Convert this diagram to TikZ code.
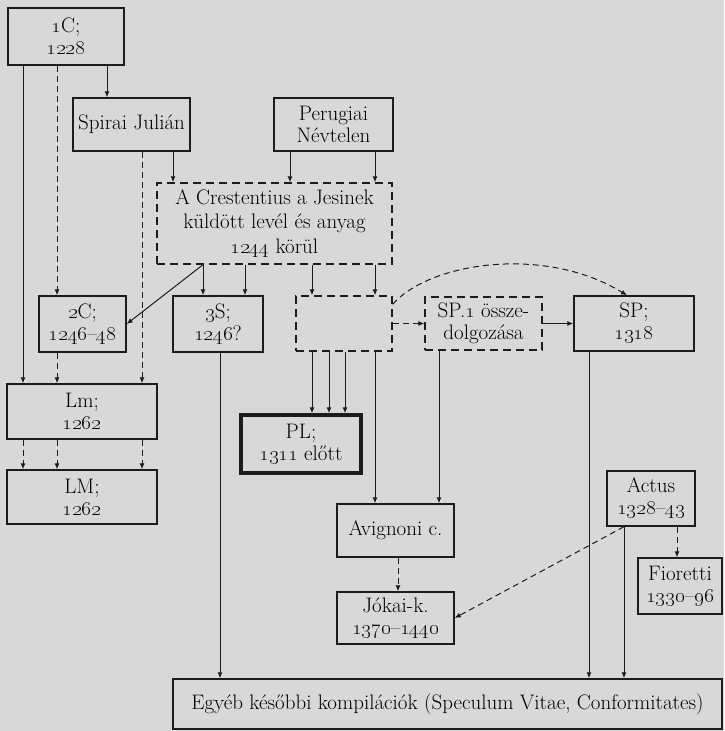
\documentclass[tikz,border=0pt]{standalone}
\usetikzlibrary{arrows.meta}
\definecolor{paper}{RGB}{216,216,216}
\definecolor{ink}{RGB}{28,28,28}
\newcommand{\os}[1]{\oldstylenums{#1}}
\begin{document}
\begin{tikzpicture}[x=1pt,y=-1pt,
  box/.style={draw=ink, line width=1.4pt, inner sep=0pt, align=center,
    font=\fontsize{21}{22}\selectfont, text=black},
  dbox/.style={box, dash pattern=on 8pt off 5pt},
  thickbox/.style={box, line width=3.5pt},
  conn/.style={draw=ink, line width=1pt, -{Latex[length=6pt,width=5pt]}},
  dconn/.style={conn, dash pattern=on 6pt off 4pt},
]
\fill[paper] (0,0) rectangle (724,731);
\useasboundingbox (0,0) rectangle (724,731);

% nodes
\node[box, minimum width=116pt, minimum height=57pt] (c1) at (66,36.5) {\os{1}C;\\\os{1228}};
\node[box, minimum width=117pt, minimum height=53pt] (spirai) at (131.5,124.5) {Spirai Julián};
\node[box, minimum width=119pt, minimum height=53pt] (perug) at (333.5,124.5) {Perugiai\\Névtelen};
\node[dbox, minimum width=235pt, minimum height=81pt, font=\fontsize{21}{24.5}\selectfont] (crest) at (274.5,223.5)
  {A Crestentius a Jesinek\\küldött levél és anyag\\\os{1244} körül};
\node[box, minimum width=87pt, minimum height=56pt] (c2) at (82.5,324) {\os{2}C;\\\os{1246}--\os{48}};
\node[box, minimum width=90pt, minimum height=56pt] (s3) at (218,324) {\os{3}S;\\\os{1246}?};
\node[dbox, minimum width=96pt, minimum height=55pt] (dbx) at (344,323.5) {};
\node[dbox, minimum width=117pt, minimum height=53pt] (sp1) at (483.5,323.5) {SP.\os{1} össze-\\dolgozása};
\node[box, minimum width=120pt, minimum height=55pt] (sp) at (634,323.5) {SP;\\\os{1318}};
\node[box, minimum width=150pt, minimum height=55pt] (lm) at (82,411.5) {Lm;\\\os{1262}};
\node[box, minimum width=150pt, minimum height=54pt] (LM) at (82,497) {LM;\\\os{1262}};
\node[thickbox, minimum width=120pt, minimum height=58pt] (pl) at (301,444) {PL;\\\os{1311} előtt};
\node[box, minimum width=88pt, minimum height=55pt] (actus) at (651,498.5) {Actus\\\os{1328}--\os{43}};
\node[box, minimum width=117pt, minimum height=53pt] (avig) at (395.5,530.5) {Avignoni c.};
\node[box, minimum width=84pt, minimum height=56pt] (fior) at (680,586) {Fioretti\\\os{1330}--\os{96}};
\node[box, minimum width=117pt, minimum height=52pt] (jokai) at (395.5,618) {Jókai-k.\\\os{1370}--\os{1440}};
\node[box, minimum width=549pt, minimum height=50pt] (egyeb) at (447.5,704)
  {Egyéb későbbi kompilációk (Speculum Vitae, Conformitates)};

% column coordinates
\coordinate (xa) at (23,0);
\coordinate (xb) at (57,0);
\coordinate (xc) at (107,0);
\coordinate (xd) at (142,0);
\coordinate (xe) at (173,0);
\coordinate (xf) at (290,0);
\coordinate (xg) at (375,0);
\coordinate (xh) at (203,0);
\coordinate (xi) at (245,0);
\coordinate (xj) at (312,0);
\coordinate (xk) at (220,0);
\coordinate (xl) at (329,0);
\coordinate (xm) at (345,0);
\coordinate (xn) at (439,0);
\coordinate (xo) at (589,0);
\coordinate (xp) at (624,0);
\coordinate (xq) at (677,0);
\coordinate (xr) at (398,0);
\coordinate (xs) at (627,0);

% connectors
\draw[conn] (c1.south -| xa) -- (lm.north -| xa);
\draw[dconn] (c1.south -| xb) -- (c2.north -| xb);
\draw[dconn] (c2.south -| xb) -- (lm.north -| xb);
\draw[conn] (c1.south -| xc) -- (spirai.north -| xc);
\draw[dconn] (spirai.south -| xd) -- (lm.north -| xd);
\draw[dconn] (lm.south -| xa) -- (LM.north -| xa);
\draw[dconn] (lm.south -| xb) -- (LM.north -| xb);
\draw[dconn] (lm.south -| xd) -- (LM.north -| xd);
\draw[conn] (spirai.south -| xe) -- (crest.north -| xe);
\draw[conn] (perug.south -| xf) -- (crest.north -| xf);
\draw[conn] (perug.south -| xg) -- (crest.north -| xg);
\draw[conn] (crest.south -| xh) -- (c2.east);
\draw[conn] (crest.south -| xh) -- (s3.north -| xh);
\draw[conn] (crest.south -| xi) -- (s3.north -| xi);
\draw[conn] (crest.south -| xj) -- (dbx.north -| xj);
\draw[conn] (crest.south -| xg) -- (dbx.north -| xg);
\draw[conn] (dbx.south -| xj) -- (pl.north -| xj);
\draw[conn] (dbx.south -| xl) -- (pl.north -| xl);
\draw[conn] (dbx.south -| xm) -- (pl.north -| xm);
\draw[conn] (dbx.south -| xg) -- (avig.north -| xg);
\draw[dconn] (dbx.east) -- (sp1.west);
\draw[conn] (sp1.east) -- (sp.west);
\draw[dconn] ([yshift=-9pt]dbx.north east) .. controls (430,262) and (545,245) .. (sp.north -| xs);
\draw[conn] (s3.south -| xk) -- (egyeb.north -| xk);
\draw[conn] (sp1.south -| xn) -- (avig.north -| xn);
\draw[conn] (sp.south -| xo) -- (egyeb.north -| xo);
\draw[dconn] (avig.south -| xr) -- (jokai.north -| xr);
\draw[dconn] (actus.south -| xp) -- (jokai.east);
\draw[dconn] (actus.south -| xq) -- (fior.north -| xq);
\draw[conn] (actus.south -| xp) -- (egyeb.north -| xp);
\end{tikzpicture}
\end{document}
